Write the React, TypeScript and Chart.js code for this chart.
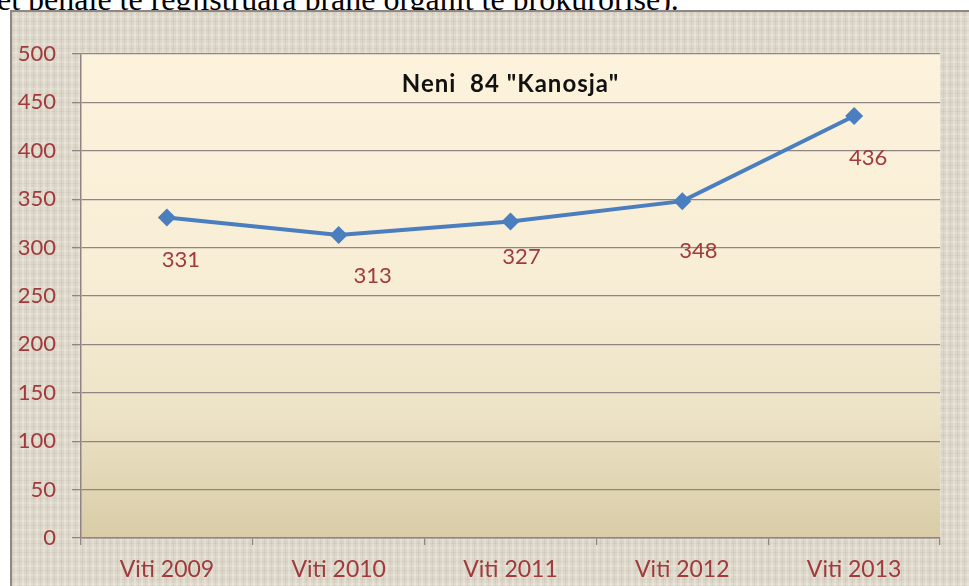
import React, { useEffect, useRef } from "react";
import { Chart, registerables } from "chart.js";

Chart.register(...registerables);

const categories = ["Viti 2009", "Viti 2010", "Viti 2011", "Viti 2012", "Viti 2013"];
const values = [331, 313, 327, 348, 436];
const yMin = 0;
const yMax = 500;
const yStep = 50;
const chartTitle = 'Neni  84 "Kanosja"';
const headerText = "et penale te regjistruara prane organit te prokurorise).";
const labelDx = [14, 34, 11, 16, 14];
const labelDy = [42, 41, 35, 50, 42];

const W = 969;
const H = 586;
const FONT = "Lato, 'Open Sans', sans-serif";
const RED = "#a03a3c";
const GRID = "#8e8584";

export default function App() {
  const ref = useRef<HTMLCanvasElement | null>(null);

  useEffect(() => {
    const canvas = ref.current;
    if (!canvas) return;

    const plotBg = {
      id: "plotBg",
      beforeDraw(chart: any) {
        const { ctx, chartArea: a } = chart;
        const g = ctx.createLinearGradient(0, a.top, 0, a.bottom);
        g.addColorStop(0, "#fdf3dc");
        g.addColorStop(0.45, "#f8eed6");
        g.addColorStop(0.75, "#ece2c5");
        g.addColorStop(1, "#d9cca7");
        ctx.save();
        ctx.fillStyle = g;
        ctx.fillRect(a.left, a.top, a.right - a.left, a.bottom - a.top);
        ctx.restore();
      },
    };

    const overlay = {
      id: "overlay",
      afterDatasetsDraw(chart: any) {
        const { ctx, chartArea: a } = chart;
        ctx.save();
        ctx.fillStyle = "#111";
        ctx.font = `bold 24px ${FONT}`;
        try {
          (ctx as any).letterSpacing = "1px";
        } catch (e) {}
        ctx.textAlign = "center";
        ctx.textBaseline = "middle";
        ctx.fillText(chartTitle, (a.left + a.right) / 2, 84);
        try {
          (ctx as any).letterSpacing = "0px";
        } catch (e) {}
        const meta = chart.getDatasetMeta(0);
        ctx.fillStyle = RED;
        ctx.font = `22px ${FONT}`;
        meta.data.forEach((pt: any, i: number) => {
          ctx.fillText(String(values[i]), pt.x + labelDx[i], pt.y + labelDy[i]);
        });
        ctx.restore();
      },
    };

    const chart = new Chart(canvas, {
      type: "line",
      data: {
        labels: categories,
        datasets: [
          {
            data: values,
            borderColor: "#4a7ebf",
            backgroundColor: "#4a7ebf",
            borderWidth: 4,
            pointStyle: "rectRot",
            pointRadius: 9,
            pointBorderWidth: 0,
            tension: 0,
          },
        ],
      },
      options: {
        responsive: false,
        animation: false,
        devicePixelRatio: 1,
        layout: { padding: { top: 54, right: 29, left: 0, bottom: 0 } },
        plugins: { legend: { display: false }, tooltip: { enabled: false }, title: { display: false } },
        scales: {
          x: {
            offset: true,
            grid: { offset: true, drawOnChartArea: false, color: GRID, tickLength: 7, lineWidth: 1.2 },
            border: { color: GRID, width: 1.5 },
            ticks: { color: RED, font: { family: FONT, size: 23 }, padding: 11, maxRotation: 0 },
            afterFit: (s: any) => {
              s.height = 48;
            },
          },
          y: {
            min: yMin,
            max: yMax,
            ticks: { stepSize: yStep, color: RED, font: { family: FONT, size: 22 }, padding: 16 },
            grid: { color: GRID, tickLength: 9, lineWidth: 1.3 },
            border: { color: GRID, width: 1.5 },
            afterFit: (s: any) => {
              s.width = 81;
            },
          },
        },
      },
      plugins: [plotBg, overlay],
    });
    return () => chart.destroy();
  }, []);

  const texture =
    "repeating-linear-gradient(90deg, rgba(160,150,135,0.13) 0px, rgba(160,150,135,0.13) 1px, transparent 1px, transparent 3px, rgba(255,255,250,0.22) 3px, rgba(255,255,250,0.22) 5px, transparent 5px, transparent 7px)," +
    "repeating-linear-gradient(0deg, rgba(150,140,125,0.1) 0px, rgba(150,140,125,0.1) 1px, transparent 1px, transparent 4px, rgba(255,255,250,0.18) 4px, rgba(255,255,250,0.18) 6px, transparent 6px, transparent 9px)";

  return (
    <div style={{ position: "fixed", left: 0, top: 0, width: W, height: H, overflow: "hidden", background: "#fff" }}>
      <div
        style={{
          position: "absolute",
          left: -3,
          top: -19,
          fontFamily: "'Liberation Serif', 'Times New Roman', serif",
          fontSize: 32,
          lineHeight: "normal",
          color: "#000",
          whiteSpace: "nowrap",
        }}
      >
        {headerText}
      </div>
      <div
        style={{
          position: "absolute",
          left: 10,
          top: 10,
          width: W,
          height: H,
          backgroundColor: "#dcd6c8",
          backgroundImage: texture,
          borderLeft: "2px solid #8f8888",
          borderTop: "2px solid #8f8888",
        }}
      />
      <canvas ref={ref} width={W} height={H} style={{ position: "absolute", left: 0, top: 0, width: W, height: H }} />
    </div>
  );
}
